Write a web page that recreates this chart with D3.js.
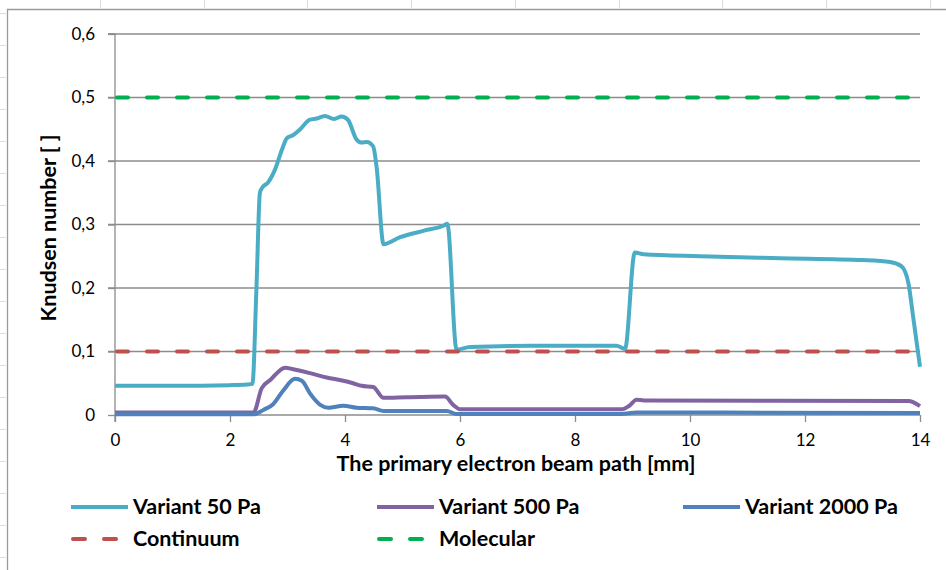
<!DOCTYPE html>
<html>
<head>
<meta charset="utf-8">
<script src="https://cdn.jsdelivr.net/npm/d3@7"></script>
<style>
  body { margin: 0; background: #fff; }
  svg text { font-family: Lato, "Liberation Sans", sans-serif; fill: #000; }
</style>
</head>
<body>
<div id="chart"></div>
<script>
// values (x in mm, y = Knudsen number)
var variant50 = [[0, 0.046], [1, 0.046], [2, 0.047], [2.3, 0.048], [2.39, 0.049], [2.46, 0.2], [2.52, 0.35],
  [2.56, 0.358], [2.66, 0.366], [2.78, 0.386], [2.9, 0.417], [2.99, 0.436], [3.1, 0.441], [3.22, 0.45],
  [3.39, 0.465], [3.51, 0.467], [3.65, 0.471], [3.81, 0.466], [3.94, 0.47], [4.05, 0.465], [4.2, 0.434],
  [4.29, 0.429], [4.38, 0.43], [4.49, 0.423], [4.55, 0.39], [4.67, 0.269], [4.96, 0.28], [5.36, 0.29],
  [5.71, 0.298], [5.78, 0.301], [5.94, 0.103], [6.17, 0.107], [7.27, 0.109], [8.72, 0.109], [8.87, 0.104],
  [9.04, 0.256], [9.19, 0.253], [10.17, 0.25], [11.57, 0.247], [13.01, 0.244], [13.48, 0.241], [13.68, 0.234],
  [13.8, 0.207], [13.88, 0.155], [14, 0.076]];

var variant500 = [[0, 0.004], [2.41, 0.004], [2.55, 0.042], [2.7, 0.055], [2.96, 0.0745], [3.1, 0.072],
  [3.39, 0.066], [3.68, 0.059], [3.97, 0.054], [4.14, 0.05], [4.29, 0.046], [4.49, 0.044], [4.67, 0.027],
  [5.07, 0.028], [5.74, 0.029], [5.88, 0.016], [6.0, 0.009], [8.81, 0.009], [8.95, 0.015], [9.07, 0.024],
  [9.2, 0.023], [13.8, 0.022], [14, 0.014]];

var variant2000 = [[0, 0.001], [2.41, 0.001], [2.58, 0.008], [2.75, 0.017], [2.93, 0.039], [3.13, 0.057],
  [3.25, 0.054], [3.39, 0.034], [3.57, 0.016], [3.71, 0.0115], [3.97, 0.0146], [4.2, 0.0115], [4.49, 0.0105],
  [4.67, 0.0063], [5.77, 0.0063], [5.94, 0.0015], [8.8, 0.0015], [9.07, 0.004], [14, 0.003]];

var continuumValue = 0.1;
var molecularValue = 0.5;

var xTicks = [0, 2, 4, 6, 8, 10, 12, 14];
var yTicks = [0, 0.1, 0.2, 0.3, 0.4, 0.5, 0.6];

var seriesNames = ["Variant 50 Pa", "Variant 500 Pa", "Variant 2000 Pa", "Continuum", "Molecular"];

var width = 946,
    height = 570;

var svg = d3.select("#chart").append("svg")
    .attr("width", width)
    .attr("height", height);

svg.append("rect").attr("width", width).attr("height", height).attr("fill", "#fff");

// faint ruler marks outside the chart frame
var ruler = svg.append("g").attr("stroke", "#dcdcdc").attr("stroke-width", 1);
ruler.selectAll("line.l").data(d3.range(13, 570, 32)).enter().append("line")
    .attr("x1", 0).attr("x2", 6).attr("y1", function(d) { return d + 0.5; }).attr("y2", function(d) { return d + 0.5; });
ruler.selectAll("line.t").data(d3.range(100, 946, 103.7)).enter().append("line")
    .attr("y1", 0).attr("y2", 8).attr("x1", function(d) { return Math.round(d) + 0.5; }).attr("x2", function(d) { return Math.round(d) + 0.5; });

// chart frame
svg.append("path")
    .attr("d", "M7.5,570 V9.5 H946")
    .attr("fill", "none")
    .attr("stroke", "#9a9a9a")
    .attr("stroke-width", 1.3);

var x = d3.scaleLinear().domain([0, 14]).range([115, 920]);
var y = d3.scaleLinear().domain([0, 0.6]).range([415, 34]);

var fmt = function(d) { return d === 0 ? "0" : d3.format(".1f")(d).replace(".", ","); };

// horizontal grid lines
svg.append("g")
    .selectAll("line")
    .data(yTicks.slice(1))
    .enter().append("line")
    .attr("x1", 108).attr("x2", 920)
    .attr("y1", function(d) { return y(d); })
    .attr("y2", function(d) { return y(d); })
    .attr("stroke", "#8c8c8c")
    .attr("stroke-width", 1.3);

// y axis
var yAxis = svg.append("g")
    .attr("transform", "translate(" + x(0) + ",0)")
    .call(d3.axisLeft(y).tickValues(yTicks).tickFormat(fmt).tickSize(7).tickPadding(13));

// x axis
var xAxis = svg.append("g")
    .attr("transform", "translate(0," + y(0) + ")")
    .call(d3.axisBottom(x).tickValues(xTicks).tickFormat(d3.format("d")).tickSize(7).tickPadding(12));

[yAxis, xAxis].forEach(function(ax) {
    ax.select(".domain").attr("stroke", "#8c8c8c").attr("stroke-width", 1.3);
    ax.selectAll(".tick line").attr("stroke", "#8c8c8c").attr("stroke-width", 1.3);
    ax.selectAll(".tick text").attr("font-size", 17).attr("font-family", "Lato").attr("fill", "#000");
});
yAxis.select(".domain").attr("d", "M-7," + y(0.6) + "H0V" + (y(0) + 7));
xAxis.select(".domain").attr("d", "M" + x(0) + ",0H" + x(14));

// axis titles
svg.append("text")
    .attr("x", 516).attr("y", 471)
    .attr("text-anchor", "middle")
    .attr("font-size", 21.5).attr("font-weight", "bold")
    .text("The primary electron beam path [mm]");

svg.append("text")
    .attr("transform", "translate(56,228) rotate(-90)")
    .attr("text-anchor", "middle")
    .attr("font-size", 21.5).attr("font-weight", "bold")
    .text("Knudsen number [ ]");

var line = d3.line()
    .x(function(d) { return x(d[0]); })
    .y(function(d) { return y(d[1]); })
    .curve(d3.curveMonotoneX);

var styles = [
    {color: "#4bacc6", dash: null},
    {color: "#8064a2", dash: null},
    {color: "#4f81bd", dash: null},
    {color: "#c0504d", dash: "11,19"},
    {color: "#00b050", dash: "11,19"}
];

var seriesData = [
    variant50,
    variant500,
    variant2000,
    [[0, continuumValue], [14, continuumValue]],
    [[0, molecularValue], [14, molecularValue]]
];

svg.append("g")
    .selectAll("path")
    .data(seriesData)
    .enter().append("path")
    .attr("d", line)
    .attr("fill", "none")
    .attr("stroke", function(d, i) { return styles[i].color; })
    .attr("stroke-width", 4)
    .attr("stroke-linejoin", "round")
    .attr("stroke-linecap", function(d, i) { return styles[i].dash ? "round" : "butt"; })
    .attr("stroke-dasharray", function(d, i) { return styles[i].dash; })
    .attr("stroke-dashoffset", function(d, i) { return styles[i].dash ? -2 : null; });

// legend
var legendPos = [[71, 507], [377, 507], [683, 507], [71, 539], [377, 539]];

var legend = svg.append("g")
    .selectAll("g")
    .data(seriesNames)
    .enter().append("g")
    .attr("transform", function(d, i) { return "translate(" + legendPos[i][0] + "," + legendPos[i][1] + ")"; });

legend.append("line")
    .attr("x1", function(d, i) { return styles[i].dash ? 2 : 0; })
    .attr("x2", function(d, i) { return styles[i].dash ? 47 : 57; })
    .attr("y1", 0).attr("y2", 0)
    .attr("stroke", function(d, i) { return styles[i].color; })
    .attr("stroke-width", 4)
    .attr("stroke-linecap", function(d, i) { return styles[i].dash ? "round" : "butt"; })
    .attr("stroke-dasharray", function(d, i) { return styles[i].dash ? "12,19" : null; });

legend.append("text")
    .attr("x", 62)
    .attr("y", 7)
    .attr("font-size", 21.5).attr("font-weight", "bold")
    .text(function(d) { return d; });
</script>
</body>
</html>
